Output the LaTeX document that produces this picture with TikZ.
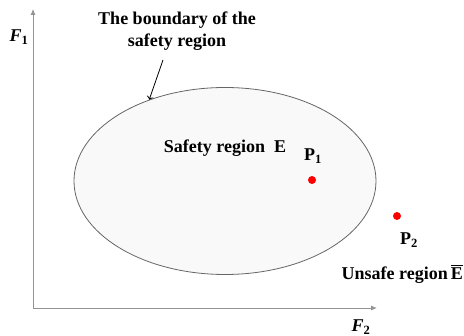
\documentclass[tikz,border=0pt]{standalone}
\usepackage{amsmath}
\usepackage{fontspec}
\setmainfont{Liberation Serif}
\usetikzlibrary{shapes.geometric,arrows.meta}

\begin{document}
\begin{tikzpicture}[x=1pt, y=1pt,
    axis/.style ={draw=gray!85, line width=0.9pt, -{Latex[length=6pt,width=5pt]}},
    label/.style ={font=\fontsize{18}{21.5}\selectfont\bfseries, inner sep=0pt, align=center},
    point/.style ={circle, fill=red, inner sep=0pt, minimum size=8pt}]
   \useasboundingbox (0,0) rectangle (464,336);
   \coordinate (O) at (33,28);
   \coordinate (Y) at (33,327);
   \coordinate (X) at (377,28);
   \draw[axis] (O) -- (Y);
   \draw[axis] (O) -- (X);
   \node[label] (F1) at (19,299) {\itshape F\textsubscript{\upshape 1}};
   \node[label] (F2) at (361,9) {\itshape F\textsubscript{\upshape 2}};
   \node[ellipse, draw=black!60, line width=0.8pt, fill=gray!5, minimum width=302pt, minimum height=187pt] (region) at (225,155) {};
   \node[label] (boundary) at (177,305) {The boundary of the\\safety region};
   \draw[thick, ->] (163,276) -- (region.133);
   \node[label] (safe) at (225,188) {Safety region\ \ E};
   \node[label] (P1) at (313,180) {P\textsubscript{1}};
   \node[point] (p1) at (312,156) {};
   \node[point] (p2) at (397,120) {};
   \node[label] (P2) at (409,96) {P\textsubscript{2}};
   \node[label, anchor=east] (unsafe) at (463,62) {Unsafe region\,$\overline{\text{\bfseries E}}$};
 \end{tikzpicture}
\end{document}
